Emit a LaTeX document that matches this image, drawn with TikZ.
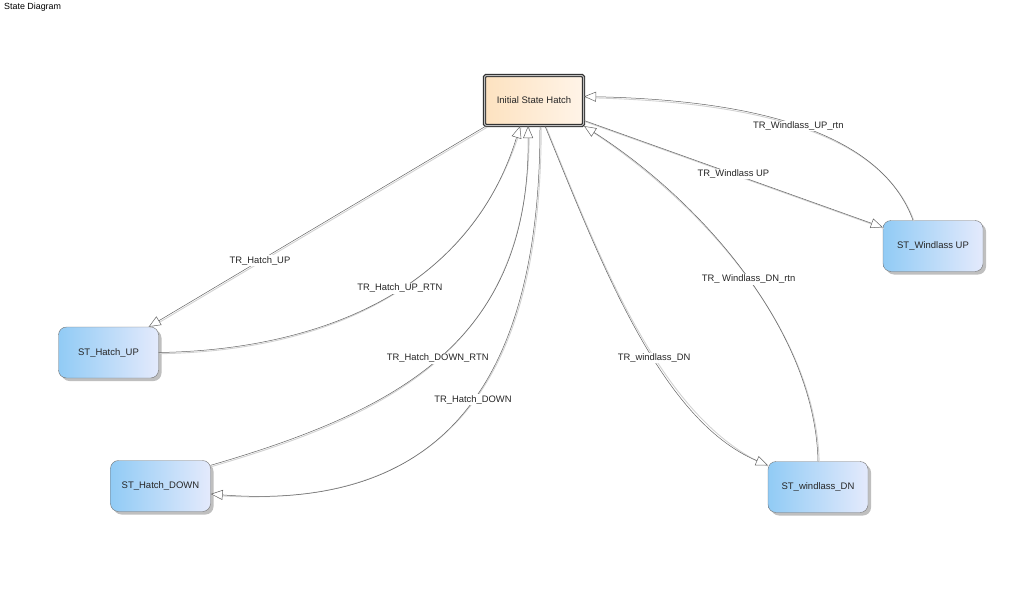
\documentclass[tikz,border=0pt]{standalone}
\usepackage{fontspec}
\setmainfont{Liberation Sans}
\usetikzlibrary{arrows.meta,shadows}

\definecolor{stateleft}{RGB}{145,203,245}
\definecolor{stateright}{RGB}{228,234,252}
\definecolor{initleft}{RGB}{253,226,192}
\definecolor{initright}{RGB}{255,244,232}
\definecolor{edgecol}{RGB}{100,100,100}

\begin{document}
\begin{tikzpicture}[x=1pt, y=-1pt,
  state/.style={draw=black!55, rounded corners=8pt, minimum width=100pt,
    minimum height=51pt, inner sep=2pt, left color=stateleft, right color=stateright,
    drop shadow={shadow xshift=3pt, shadow yshift=-3pt, fill=black, opacity=0.25},
    font=\fontsize{9.5}{11}\selectfont, text=black!85},
  initstate/.style={draw=black!80, double=gray!50, double distance=1pt, line width=1.1pt,
    rounded corners=1.5pt, minimum width=99pt, minimum height=50pt,
    left color=initleft, right color=initright,
    font=\fontsize{9.5}{11}\selectfont, text=black!85},
  trans/.style={draw=edgecol, line width=0.5pt,
    -{Triangle[length=12pt, width=10pt, fill=white]},
    preaction={draw=gray!35, line width=0.9pt, arrows=-,
      transform canvas={xshift=1.2pt, yshift=-1.2pt}}},
  lbl/.style={fill=white, inner sep=1pt, font=\fontsize{9.4}{11}\selectfont, text=black!85}]

  % Page
  \useasboundingbox (0,0) rectangle (1024,602);
  \node[anchor=west, inner sep=0pt, font=\fontsize{8.9}{10}\selectfont] (title) at (4,7) {State Diagram};

  % States
  \node[initstate] (init) at (534,100.5) {Initial State Hatch};
  \node[state] (hup)   at (108.5,352.5) {ST\_Hatch\_UP};
  \node[state] (hdown) at (160.5,486)   {ST\_Hatch\_DOWN};
  \node[state] (wdn)   at (818,487)     {ST\_windlass\_DN};
  \node[state] (wup)   at (933,246)     {ST\_Windlass UP};

  % Hatch transitions
  \draw[trans] ([xshift=2pt]init.south west) -- ([xshift=-10pt]hup.north east)
    node[lbl, pos=0.67] (lhup) {TR\_Hatch\_UP};
  \draw[trans] (hup.east) .. controls (320,350) and (470,290) .. ([xshift=-14pt]init.south)
    node[lbl, pos=0.55] (lhuprtn) {TR\_Hatch\_UP\_RTN};
  \draw[trans] ([yshift=-5pt]hdown.north east) .. controls (400,410) and (530,340) .. ([xshift=-6pt]init.south)
    node[lbl, pos=0.49] (lhdnrtn) {TR\_Hatch\_DOWN\_RTN};
  \draw[trans] ([xshift=6pt]init.south) .. controls (540,410) and (420,510) .. ([yshift=-8pt]hdown.east)
    node[lbl, pos=0.44] (lhdn) {TR\_Hatch\_DOWN};

  % Windlass transitions
  \draw[trans] ([xshift=11pt]init.south) .. controls (600,260) and (660,420) .. ([yshift=-4pt]wdn.north west)
    node[lbl, pos=0.58] (lwdn) {TR\_windlass\_DN};
  \draw[trans] (wdn.north) .. controls (815,330) and (700,200) .. (init.south east)
    node[lbl, pos=0.48] (lwdnrtn) {TR\_ Windlass\_DN\_rtn};
  \draw[trans] ([yshift=-20pt]init.east) -- ([yshift=-7pt]wup.north west)
    node[lbl, pos=0.5] (lwup) {TR\_Windlass UP};
  \draw[trans] ([xshift=-20pt]wup.north) .. controls (880,130) and (750,100) .. ([yshift=4pt]init.east)
    node[lbl, pos=0.5] (lwuprtn) {TR\_Windlass\_UP\_rtn};
\end{tikzpicture}
\end{document}
